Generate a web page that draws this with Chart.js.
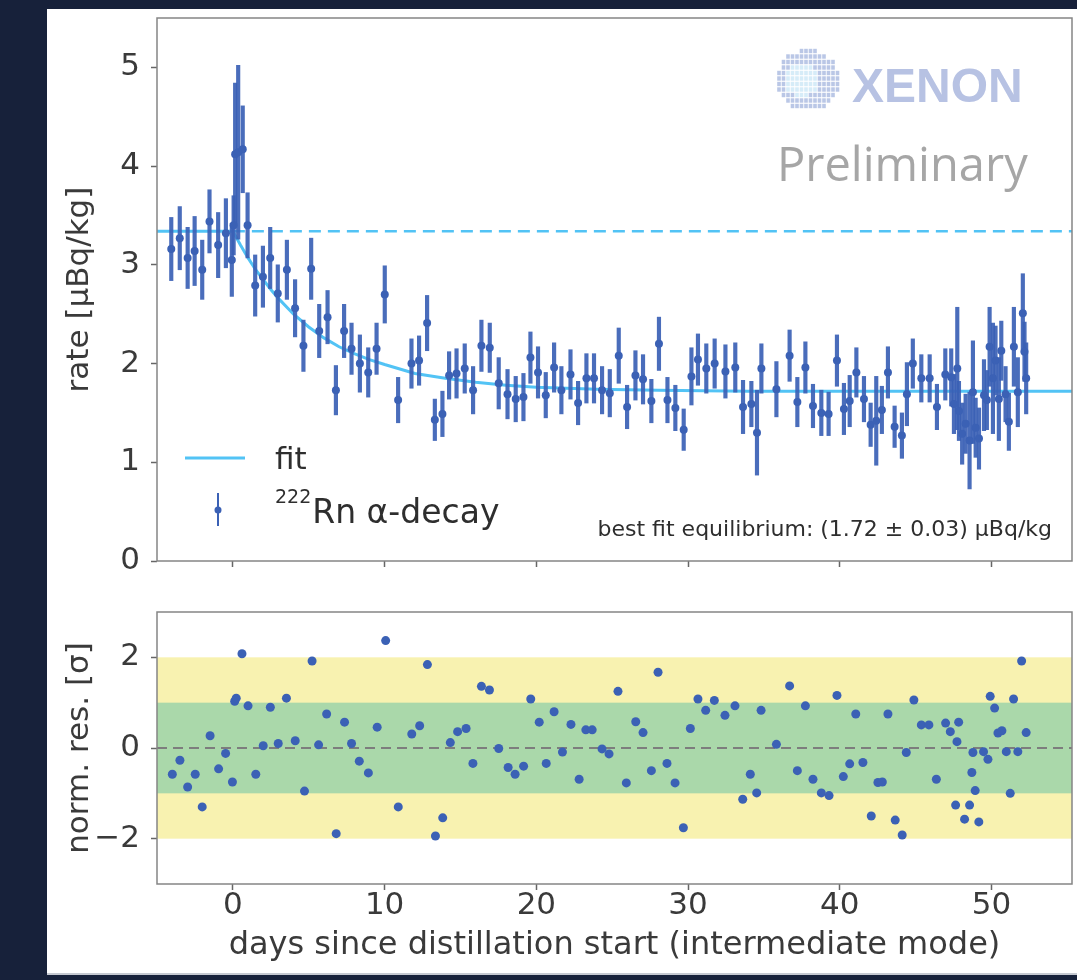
<!DOCTYPE html>
<html>
<head>
<meta charset="utf-8">
<script src="https://cdn.jsdelivr.net/npm/chart.js@4/dist/chart.umd.min.js"></script>
<style>
  html, body { margin: 0; padding: 0; background: #17213a; width: 1077px; height: 980px; overflow: hidden; }
  #panel { position: absolute; left: 47px; top: 9px; width: 1030px; height: 964px; background: #fff; border-bottom: 2px solid #c5c9d1; }
  #rate, #res { position: absolute; left: 0; }
  #rate { top: 0; }
  #res { top: 590px; }
</style>
</head>
<body>
<div id="panel">
  <canvas id="rate" width="1030" height="590"></canvas>
  <canvas id="res" width="1030" height="374"></canvas>
</div>
<script>
/* ---- measured rate (µBq/kg) vs days since distillation start ---- */
const days = [-4.06, -3.5, -2.98, -2.52, -2.02, -1.54, -0.97, -0.46, -0.07, 0.05, 0.15, 0.35, 0.65,
  0.97, 1.47, 1.98, 2.46, 2.96, 3.56, 4.10, 4.65, 5.16, 5.69, 6.24, 6.79, 7.33, 7.82, 8.37, 8.92,
  9.47, 10.01, 10.89, 11.77, 12.27, 12.80, 13.31, 13.81, 14.25, 14.74, 15.28, 15.83, 16.38, 16.93,
  17.52, 18.10, 18.64, 19.15, 19.61, 20.11, 20.62, 21.17, 21.65, 22.25, 22.75, 23.30, 23.80, 24.33,
  24.84, 25.43, 25.98, 26.53, 27.03, 27.58, 28.08, 28.64, 29.16, 29.71, 30.22, 30.65, 31.20, 31.75,
  32.46, 33.11, 33.62, 34.17, 34.54, 34.83, 35.82, 36.69, 37.20, 37.73, 38.23, 38.78, 39.26, 39.81,
  40.27, 40.65, 41.09, 41.59, 42.03, 42.40, 42.77, 43.17, 43.61, 44.09, 44.42, 44.81, 45.37, 45.92,
  46.40, 46.95, 47.34, 47.52, 47.74, 47.85, 48.06, 48.29, 48.55, 48.77, 48.95, 49.17, 49.50, 49.69,
  49.87, 50.09, 50.26, 50.48, 50.64, 50.92, 51.14, 51.47, 51.73, 52.06, 52.17, 52.28];
const rate = [3.16, 3.27, 3.07, 3.14, 2.95, 3.44, 3.20, 3.32, 3.05, 3.40, 4.12, 4.14, 4.17,
  3.40, 2.79, 2.88, 3.07, 2.71, 2.95, 2.56, 2.18, 2.96, 2.33, 2.47, 1.73, 2.33, 2.15, 2.00, 1.91,
  2.15, 2.70, 1.63, 2.00, 2.03, 2.41, 1.43, 1.49, 1.88, 1.90, 1.95, 1.73, 2.18, 2.16,
  1.80, 1.69, 1.64, 1.66, 2.06, 1.91, 1.68, 1.96, 1.73, 1.89, 1.60, 1.85, 1.85, 1.73,
  1.70, 2.08, 1.56, 1.88, 1.84, 1.62, 2.20, 1.63, 1.55, 1.33, 1.87, 2.04, 1.95, 2.00,
  1.92, 1.96, 1.56, 1.59, 1.30, 1.95, 1.74, 2.08, 1.61, 1.96, 1.57, 1.50, 1.49, 2.03,
  1.54, 1.62, 1.91, 1.64, 1.38, 1.42, 1.53, 1.91, 1.36, 1.27, 1.69, 2.00, 1.85, 1.85,
  1.56, 1.89, 1.86, 1.59, 1.95, 1.52, 1.29, 1.39, 1.22, 1.71, 1.35, 1.24, 1.68, 1.63,
  2.17, 1.85, 2.03, 1.64, 2.13, 1.69, 1.41, 2.17, 1.71, 2.51, 2.12, 1.85];
const rateErr = [0.32, 0.32, 0.31, 0.35, 0.30, 0.32, 0.33, 0.35, 0.37, 0.30, 0.72, 0.88, 0.44,
  0.33, 0.31, 0.31, 0.31, 0.29, 0.30, 0.29, 0.26, 0.31, 0.27, 0.27, 0.25, 0.27, 0.26, 0.29, 0.25,
  0.26, 0.29, 0.23, 0.25, 0.25, 0.28, 0.21, 0.23, 0.24, 0.25, 0.25, 0.24, 0.26, 0.25,
  0.26, 0.25, 0.23, 0.24, 0.26, 0.26, 0.23, 0.25, 0.24, 0.25, 0.22, 0.25, 0.25, 0.24,
  0.24, 0.28, 0.22, 0.25, 0.25, 0.22, 0.27, 0.23, 0.23, 0.21, 0.29, 0.26, 0.25, 0.25,
  0.27, 0.25, 0.27, 0.23, 0.43, 0.25, 0.28, 0.26, 0.25, 0.26, 0.22, 0.23, 0.22, 0.26,
  0.26, 0.26, 0.25, 0.23, 0.22, 0.45, 0.24, 0.26, 0.21, 0.23, 0.32, 0.25, 0.24, 0.24,
  0.23, 0.26, 0.29, 0.30, 0.62, 0.30, 0.31, 0.30, 0.49, 0.52, 0.30, 0.31, 0.36, 0.30,
  0.40, 0.56, 0.35, 0.42, 0.30, 0.28, 0.29, 0.40, 0.35, 0.40, 0.30, 0.36];

/* ---- fit curve ---- */
const fitDays = [-5, 0, 0.5, 1, 1.5, 2, 2.5, 3, 4, 5, 6, 7, 8, 9, 10, 12, 14, 16, 18, 20, 24, 28, 34, 55.3];
const fitRate = [3.34, 3.34, 3.20, 3.07, 2.95, 2.85, 2.75, 2.66, 2.50, 2.37, 2.26, 2.17, 2.10, 2.04,
  1.99, 1.90, 1.85, 1.81, 1.78, 1.76, 1.74, 1.73, 1.72, 1.72];
const initialRate = 3.34;

/* ---- normalised residuals ---- */
const resDays = [-3.99, -3.49, -2.98, -2.48, -2.02, -1.50, -0.94, -0.48, -0.03, 0.12, 0.22, 0.60,
  1.00, 1.51, 2.00, 2.47, 2.99, 3.53, 4.11, 4.72, 5.22, 5.65, 6.18, 6.81, 7.36, 7.82, 8.33, 8.93,
  9.51, 10.07, 10.90, 11.79, 12.31, 12.82, 13.35, 13.83, 14.33, 14.81, 15.37, 15.82, 16.38, 16.91,
  17.52, 18.14, 18.60, 19.16, 19.63, 20.19, 20.65, 21.17, 21.72, 22.28, 22.82, 23.26, 23.68, 24.33,
  24.79, 25.38, 25.93, 26.55, 27.03, 27.58, 28.02, 28.61, 29.14, 29.69, 30.15, 30.65, 31.16, 31.73,
  32.43, 33.09, 33.60, 34.10, 34.52, 34.81, 35.82, 36.69, 37.20, 37.73, 38.23, 38.78, 39.29, 39.81,
  40.23, 40.65, 41.05, 41.52, 42.07, 42.51, 42.80, 43.17, 43.65, 44.11, 44.38, 44.88, 45.37, 45.87,
  46.36, 46.97, 47.28, 47.63, 47.72, 47.83, 48.22, 48.55, 48.70, 48.77, 48.92, 49.16, 49.47, 49.76,
  49.91, 50.20, 50.42, 50.68, 50.97, 51.23, 51.45, 51.73, 51.98, 52.28];
const residual = [-0.58, -0.27, -0.86, -0.58, -1.30, 0.27, -0.46, -0.12, -0.75, 1.03, 1.10, 2.08,
  0.93, -0.58, 0.05, 0.90, 0.10, 1.10, 0.16, -0.95, 1.92, 0.07, 0.75, -1.89, 0.57, 0.10, -0.29, -0.55,
  0.46, 2.37, -1.30, 0.31, 0.49, 1.84, -1.94, -1.54, 0.12, 0.36, 0.43, -0.34, 1.36, 1.28,
  -0.01, -0.43, -0.58, -0.40, 1.08, 0.57, -0.34, 0.80, -0.09, 0.52, -0.69, 0.40, 0.40, -0.02,
  -0.13, 1.25, -0.77, 0.58, 0.34, -0.50, 1.67, -0.34, -0.77, -1.76, 0.43, 1.08, 0.83, 1.05,
  0.72, 0.93, -1.13, -0.58, -0.99, 0.83, 0.08, 1.37, -0.50, 0.93, -0.69, -0.99, -1.05, 1.16,
  -0.63, -0.35, 0.75, -0.32, -1.50, -0.76, -0.75, 0.75, -1.59, -1.92, -0.10, 1.06, 0.51, 0.51,
  -0.69, 0.55, 0.36, -1.26, 0.14, 0.57, -1.57, -1.26, -0.54, -0.10, -0.94, -1.63, -0.08, -0.25,
  1.14, 0.88, 0.33, 0.38, -0.08, -1.00, 1.08, -0.08, 1.92, 0.34];

/* ---- axes ---- */
const xRange = [-5, 55.3];
const xTicks = [0, 10, 20, 30, 40, 50];
const rateRange = [0, 5.5];
const rateTicks = [0, 1, 2, 3, 4, 5];
const resRange = [-3, 3];
const resTicks = [-2, 0, 2];
const sigmaBands = [2, 1];

const BLUE = '#3b61b5';
const FIT = '#52c3f5';
const FONT = 'DejaVu Sans';

Chart.defaults.font.family = FONT;
Chart.defaults.font.size = 31;
Chart.defaults.color = '#3a3a3a';

const tickGrid = {
  drawOnChartArea: false,
  drawTicks: true,
  tickLength: 6,
  tickWidth: 1.5,
  tickColor: '#666'
};

const minus = v => (v < 0 ? '\u2212' + Math.abs(v) : String(v));

// axes box on all four sides
const frame = {
  id: 'frame',
  afterDatasetsDraw(chart) {
    const { ctx, chartArea: a } = chart;
    ctx.save();
    ctx.strokeStyle = '#858585';
    ctx.lineWidth = 1.5;
    ctx.strokeRect(a.left, a.top, a.right - a.left, a.bottom - a.top);
    ctx.restore();
  }
};

// legend, equilibrium note and collaboration mark
const rateNotes = {
  id: 'rateNotes',
  afterDraw(chart) {
    const { ctx, chartArea: a } = chart;
    ctx.save();

    // legend
    const lx = a.left;
    ctx.strokeStyle = FIT;
    ctx.lineWidth = 3;
    ctx.beginPath();
    ctx.moveTo(lx + 28, 449);
    ctx.lineTo(lx + 88, 449);
    ctx.stroke();

    ctx.strokeStyle = BLUE;
    ctx.lineWidth = 2;
    ctx.beginPath();
    ctx.moveTo(lx + 61, 484);
    ctx.lineTo(lx + 61, 517);
    ctx.stroke();
    ctx.fillStyle = BLUE;
    ctx.beginPath();
    ctx.arc(lx + 61, 501, 3.5, 0, Math.PI * 2);
    ctx.fill();

    ctx.fillStyle = '#2e2e2e';
    ctx.textBaseline = 'middle';
    ctx.textAlign = 'left';
    ctx.font = '31px "' + FONT + '"';
    ctx.fillText('fit', lx + 118, 452);
    ctx.font = '19px "' + FONT + '"';
    ctx.fillText('222', lx + 118, 489);
    const w = ctx.measureText('222').width;
    ctx.font = '33px "' + FONT + '"';
    ctx.fillText('Rn \u03b1-decay', lx + 118 + w + 1, 505);

    ctx.font = '22px "' + FONT + '"';
    ctx.textAlign = 'right';
    ctx.fillText('best fit equilibrium: (1.72 \u00b1 0.03) \u00b5Bq/kg', a.right - 20, 521);

    // XENON badge: a disc made of small tiles
    const cx = a.right - 264, cy = a.top + 62, r = 31;
    for (let gy = -r + 2; gy <= r; gy += 5.5) {
      for (let gx = -r + 2; gx <= r; gx += 4.5) {
        if (gx * gx + gy * gy > r * r) continue;
        const d = Math.hypot(gx + 6, gy);
        const inner = d < 17 && gx < 10;
        ctx.fillStyle = inner ? '#d6ecf8' : '#bac7e6';
        ctx.fillRect(cx + gx - 1.8, cy + gy - 2.2, 3.6, 4.4);
      }
    }
    ctx.textBaseline = 'alphabetic';
    ctx.textAlign = 'left';
    ctx.fillStyle = '#b7c2e3';
    ctx.font = 'bold 48px "Liberation Sans"';
    ctx.fillText('XENON', a.right - 220, a.top + 84);
    ctx.fillStyle = '#a6a6a6';
    ctx.font = '47px "Open Sans"';
    ctx.fillText('Preliminary', a.right - 295, a.top + 163);

    ctx.restore();
  }
};

// ±1σ / ±2σ bands and zero line
const bands = {
  id: 'bands',
  beforeDatasetsDraw(chart) {
    const { ctx, chartArea: a, scales: { y } } = chart;
    const colors = ['#f8f2b0', '#aad8aa'];
    ctx.save();
    sigmaBands.forEach((s, i) => {
      const top = y.getPixelForValue(s), bot = y.getPixelForValue(-s);
      ctx.fillStyle = colors[i];
      ctx.fillRect(a.left, top, a.right - a.left, bot - top);
    });
    const y0 = y.getPixelForValue(0);
    ctx.strokeStyle = '#7d7d7d';
    ctx.lineWidth = 2;
    ctx.setLineDash([10, 6]);
    ctx.beginPath();
    ctx.moveTo(a.left, y0);
    ctx.lineTo(a.right, y0);
    ctx.stroke();
    ctx.restore();
  }
};

const xAxis = (showLabels, height) => ({
  type: 'linear',
  min: xRange[0],
  max: xRange[1],
  offset: false,
  afterBuildTicks: s => { s.ticks = xTicks.map(v => ({ value: v })); },
  afterFit: s => { s.height = height; s.paddingLeft = 0; s.paddingRight = 0; },
  grid: { ...tickGrid, offset: false },
  border: { display: false },
  ticks: { display: showLabels, padding: -3, maxRotation: 0 },
  title: {
    display: showLabels,
    text: 'days since distillation start (intermediate mode)',
    font: { size: 32 },
    padding: { top: 0, bottom: 8 }
  }
});

const yAxis = (range, ticks, title) => ({
  type: 'linear',
  min: range[0],
  max: range[1],
  afterBuildTicks: s => { s.ticks = ticks.map(v => ({ value: v })); },
  afterFit: s => { s.width = 110; s.paddingTop = 0; s.paddingBottom = 0; },
  grid: tickGrid,
  border: { display: false },
  ticks: { padding: 11, callback: v => minus(v) },
  title: { display: true, text: title, padding: { top: 14, bottom: 0 } }
});

new Chart(document.getElementById('rate'), {
  type: 'scatter',
  data: {
    datasets: [
      {
        type: 'scatter',
        data: days.map((d, i) => ({ x: d, y: rate[i] })),
        pointRadius: 4,
        pointBackgroundColor: BLUE,
        pointBorderWidth: 0,
        order: 1
      },
      {
        type: 'bar',
        data: days.map((d, i) => ({ x: d, y: [rate[i] - rateErr[i], rate[i] + rateErr[i]] })),
        backgroundColor: 'rgba(59, 97, 181, 0.92)',
        barThickness: 3.5,
        grouped: false,
        order: 2
      },
      {
        type: 'line',
        data: fitDays.map((d, i) => ({ x: d, y: fitRate[i] })),
        borderColor: FIT,
        borderWidth: 3,
        pointRadius: 0,
        tension: 0,
        order: 3
      },
      {
        type: 'line',
        data: [{ x: 0, y: initialRate }, { x: xRange[1], y: initialRate }],
        borderColor: FIT,
        borderWidth: 2.5,
        borderDash: [12, 7],
        pointRadius: 0,
        order: 4
      }
    ]
  },
  options: {
    responsive: false,
    animation: false,
    devicePixelRatio: 1,
    layout: { padding: { top: 9, right: 5, left: 0, bottom: 0 } },
    plugins: { legend: { display: false }, tooltip: { enabled: false } },
    scales: {
      x: xAxis(false, 38),
      y: yAxis(rateRange, rateTicks, 'rate [\u00b5Bq/kg]')
    }
  },
  plugins: [frame, rateNotes]
});

new Chart(document.getElementById('res'), {
  type: 'scatter',
  data: {
    datasets: [{
      data: resDays.map((d, i) => ({ x: d, y: residual[i] })),
      pointRadius: 4.5,
      pointBackgroundColor: BLUE,
      pointBorderWidth: 0
    }]
  },
  options: {
    responsive: false,
    animation: false,
    devicePixelRatio: 1,
    layout: { padding: { top: 13, right: 5, left: 0, bottom: 0 } },
    plugins: { legend: { display: false }, tooltip: { enabled: false } },
    scales: {
      x: xAxis(true, 89),
      y: yAxis(resRange, resTicks, 'norm. res. [\u03c3]')
    }
  },
  plugins: [bands, frame]
});
</script>
</body>
</html>
